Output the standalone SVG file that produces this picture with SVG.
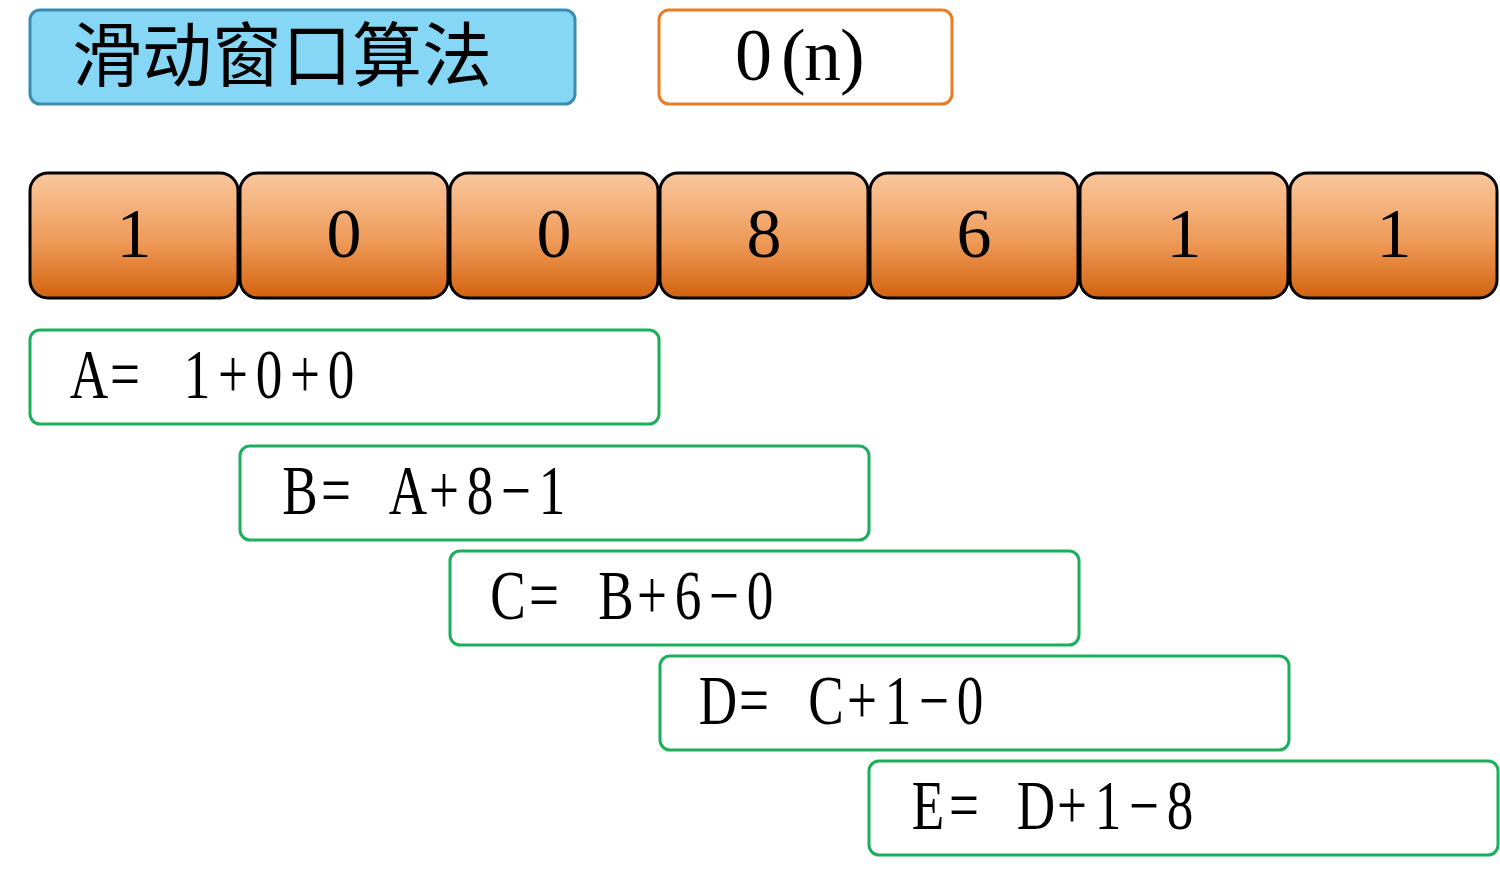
<svg xmlns="http://www.w3.org/2000/svg" width="1500" height="875" viewBox="0 0 1500 875">
<defs>
<linearGradient id="cellGrad" x1="0" y1="0" x2="0" y2="1">
<stop offset="0" stop-color="#F9C79D"/>
<stop offset="0.55" stop-color="#EE9A58"/>
<stop offset="1" stop-color="#D3620E"/>
</linearGradient>
</defs>
<style>
.cell{fill:url(#cellGrad);stroke:#000;stroke-width:3}
.num{font-family:"Liberation Serif",serif;font-size:70px;fill:#000;text-anchor:middle}
.frm{fill:#fff;stroke:#1BAF5C;stroke-width:3}
.ftxt{font-family:"Liberation Serif",serif;font-size:70px;fill:#000;text-anchor:middle}
</style>
<rect width="1500" height="875" fill="#fff"/>
<g id="title">
<rect x="30" y="10" width="545" height="94" rx="10" fill="#86D6F6" stroke="#3A8DB0" stroke-width="3"/>
<text x="72" y="81" font-family="Noto Sans CJK SC, sans-serif" font-size="70" fill="#000">滑动窗口算法</text>
</g>
<g id="complexity">
<rect x="659" y="10" width="293" height="94" rx="10" fill="#fff" stroke="#E87D27" stroke-width="3"/>
<text y="80" font-family="Liberation Serif, serif" font-size="74" fill="#000" x="735 781 804 840">0(n)</text>
</g>
<g id="cells">
<g id="cell1"><rect class="cell" x="30" y="173" width="208" height="125" rx="18"/><text class="num" x="134" y="257">1</text></g>
<g id="cell2"><rect class="cell" x="240" y="173" width="208" height="125" rx="18"/><text class="num" x="344" y="257">0</text></g>
<g id="cell3"><rect class="cell" x="450" y="173" width="208" height="125" rx="18"/><text class="num" x="554" y="257">0</text></g>
<g id="cell4"><rect class="cell" x="660" y="173" width="208" height="125" rx="18"/><text class="num" x="764" y="257">8</text></g>
<g id="cell5"><rect class="cell" x="870" y="173" width="208" height="125" rx="18"/><text class="num" x="974" y="257">6</text></g>
<g id="cell6"><rect class="cell" x="1080" y="173" width="208" height="125" rx="18"/><text class="num" x="1184" y="257">1</text></g>
<g id="cell7"><rect class="cell" x="1290" y="173" width="207" height="125" rx="18"/><text class="num" x="1394" y="257">1</text></g>
</g>
<g id="formulaA">
<rect class="frm" x="30" y="330" width="629" height="94" rx="10"/>
<text class="ftxt" transform="translate(71,398) scale(0.76,1)" x="23.7 71.1 118.4 165.8 213.2 260.5 307.9 355.3">A= 1+0+0</text>
</g>
<g id="formulaB">
<rect class="frm" x="240" y="446" width="629" height="94" rx="10"/>
<text class="ftxt" transform="translate(282,514) scale(0.76,1)" x="23.7 71.1 118.4 165.8 213.2 260.5 307.9 355.3">B= A+8−1</text>
</g>
<g id="formulaC">
<rect class="frm" x="450" y="551" width="629" height="94" rx="10"/>
<text class="ftxt" transform="translate(490,619) scale(0.76,1)" x="23.7 71.1 118.4 165.8 213.2 260.5 307.9 355.3">C= B+6−0</text>
</g>
<g id="formulaD">
<rect class="frm" x="660" y="656" width="629" height="94" rx="10"/>
<text class="ftxt" transform="translate(700,724) scale(0.76,1)" x="23.7 71.1 118.4 165.8 213.2 260.5 307.9 355.3">D= C+1−0</text>
</g>
<g id="formulaE">
<rect class="frm" x="869" y="761" width="629" height="94" rx="10"/>
<text class="ftxt" transform="translate(910,829) scale(0.76,1)" x="23.7 71.1 118.4 165.8 213.2 260.5 307.9 355.3">E= D+1−8</text>
</g>
</svg>
